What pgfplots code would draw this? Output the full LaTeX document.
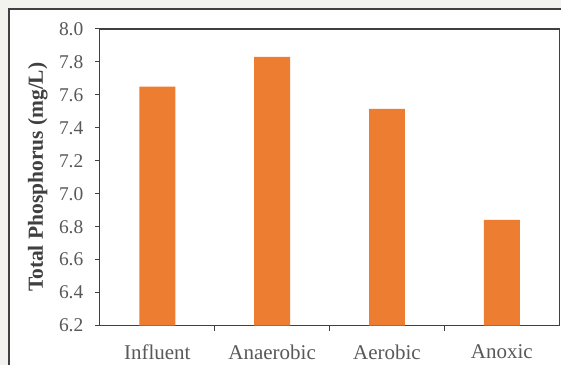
\documentclass[border=0pt]{standalone}
\usepackage{fontspec}
\setmainfont{Liberation Serif}
\usepackage{pgfplots}
\pgfplotsset{compat=1.18}
\definecolor{barorange}{HTML}{ED7D31}
\definecolor{txtgray}{HTML}{595959}
\definecolor{bggray}{HTML}{F2F2EE}
\definecolor{framegray}{HTML}{404040}
\begin{document}
\begin{tikzpicture}[x=1pt,y=1pt]
\fill[bggray] (0,0) rectangle (562,365);
\fill[white] (9,0) rectangle (562,356);
\draw[framegray, line width=1.5pt] (9,0) -- (9,356) -- (562,356);
\begin{axis}[
  at={(100pt,39pt)}, anchor=south west,
  scale only axis, width=460pt, height=297pt,
  ymin=6.2, ymax=8.0,
  ytick={6.2,6.4,6.6,6.8,7.0,7.2,7.4,7.6,7.8,8.0},
  /pgf/number format/fixed, /pgf/number format/fixed zerofill, /pgf/number format/precision=1, /pgf/number format/assume math mode=true,
  xmin=-0.5, xmax=3.5,
  xtick={0.5,1.5,2.5}, xticklabels={},
  extra x ticks={0,1,2,3},
  extra x tick labels={Influent,Anaerobic,Aerobic,Anoxic},
  extra x tick style={major tick length=0pt, tick label style={font=\fontsize{21}{24}\selectfont, text=txtgray, yshift=-16pt}},
  tick align=outside, major tick length=5pt,
  xtick pos=bottom, ytick pos=left,
  tick style={framegray, line width=1pt},
  axis line style={framegray, line width=1.2pt},
  yticklabel style={font=\fontsize{19.5}{23}\selectfont, text=txtgray, xshift=-8pt},
  ylabel={\textbf{Total Phosphorus (mg/L)}},
  every axis y label/.style={at={(axis description cs:-0.135,0.5)}, rotate=90, anchor=center, font=\fontsize{21.5}{24}\selectfont, text=framegray},
  ybar, bar width=36pt,
  clip=false,
]
\addplot[fill=barorange, draw=none] coordinates {(0,7.65) (1,7.83) (2,7.515) (3,6.842)};
\end{axis}
\end{tikzpicture}
\end{document}
